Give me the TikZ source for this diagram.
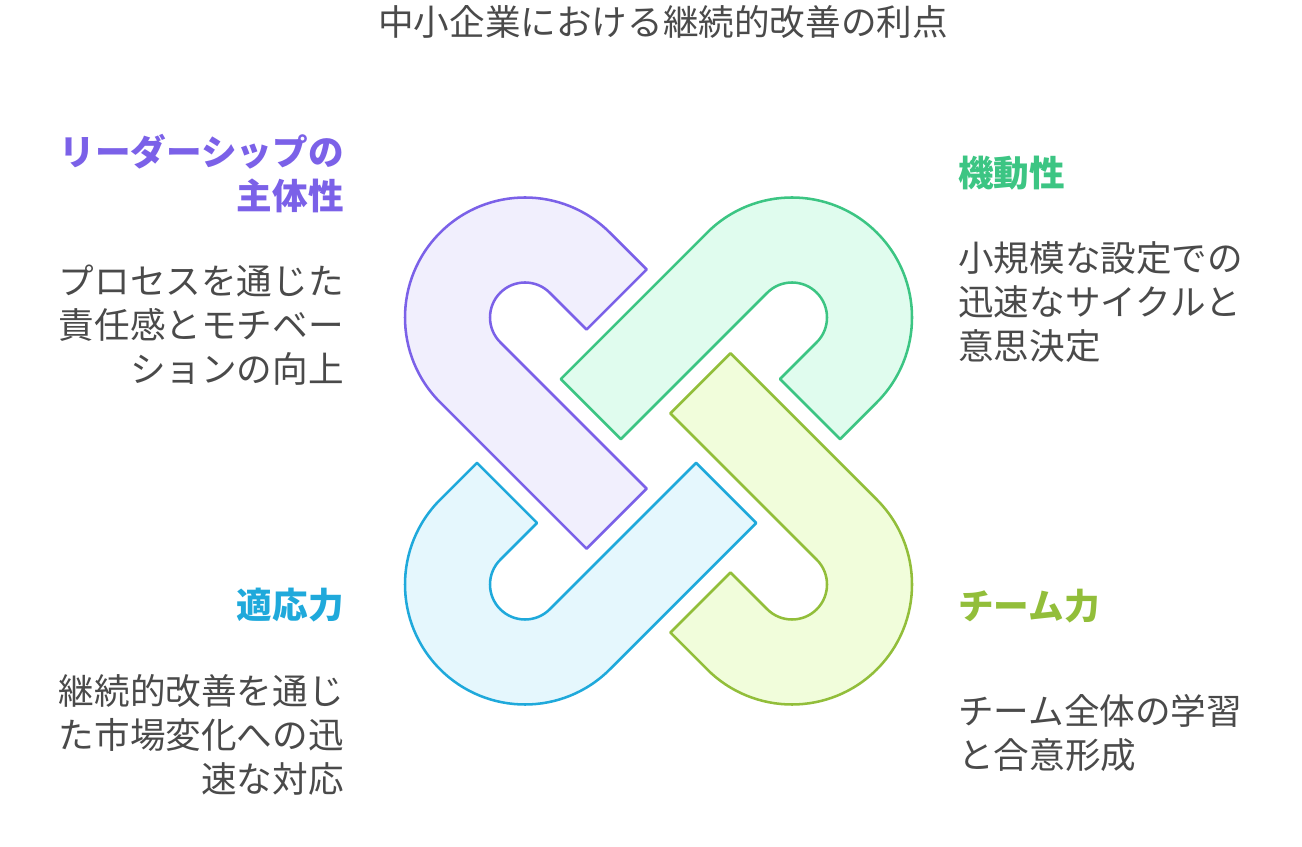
\documentclass[tikz,border=0pt]{standalone}
\usepackage{fontspec}
\setmainfont{Noto Sans CJK JP}
\definecolor{txt}{HTML}{4A4A4A}
\definecolor{pstroke}{HTML}{7B61E8}
\definecolor{pfill}{HTML}{F1EFFD}
\definecolor{gstroke}{HTML}{3CC583}
\definecolor{gfill}{HTML}{E0FCEE}
\definecolor{lstroke}{HTML}{92BE3A}
\definecolor{lfill}{HTML}{F1FDDB}
\definecolor{bstroke}{HTML}{1FA9DB}
\definecolor{bfill}{HTML}{E5F7FD}
\tikzset{
  hookline/.style={line width=1.9pt, line join=round},
  body/.style={inner sep=0pt, text=txt, font=\fontsize{26.7}{32.8}\selectfont},
  head/.style={inner sep=0pt, font=\fontsize{26.7}{32.6}\selectfont\bfseries},
}
\newcommand{\hookpath}{%
  (0,120) -- (52,120) -- (52,35) -- (0,35)
  arc[start angle=90, end angle=270, radius=35]
  -- (207,-35) -- (207,-120) -- (0,-120)
  arc[start angle=270, end angle=90, radius=120] -- cycle}
\begin{document}
\begin{tikzpicture}[x=0.75pt,y=0.75pt]
\useasboundingbox (0,0) rectangle (1302,846);
% hooks
\begin{scope}[shift={(525,528.5)}, rotate=-45]
  \filldraw[hookline, draw=pstroke, fill=pfill] \hookpath;
\end{scope}
\begin{scope}[shift={(792,528.5)}, rotate=-135]
  \filldraw[hookline, draw=gstroke, fill=gfill] \hookpath;
\end{scope}
\begin{scope}[shift={(792,261.5)}, rotate=135]
  \filldraw[hookline, draw=lstroke, fill=lfill] \hookpath;
\end{scope}
\begin{scope}[shift={(525,261.5)}, rotate=45]
  \filldraw[hookline, draw=bstroke, fill=bfill] \hookpath;
\end{scope}
% title
\node[body] (title) at (663,824) {中小企業における継続的改善の利点};
% purple
\node[head, text=pstroke, anchor=east, align=right] (ph) at (344,672.5) {リーダーシップの\\主体性};
\node[body, anchor=east, align=right] (pb) at (344,521) {プロセスを通じた\\責任感とモチベー\\ションの向上};
% green
\node[head, text=gstroke, anchor=west, align=left] (gh) at (958,673) {機動性};
\node[body, anchor=west, align=left] (gb) at (958,544) {小規模な設定での\\迅速なサイクルと\\意思決定};
% blue
\node[head, text=bstroke, anchor=east, align=right] (bh) at (344,241) {適応力};
\node[body, anchor=east, align=right] (bb) at (344,111) {継続的改善を通じ\\た市場変化への迅\\速な対応};
% lime
\node[head, text=lstroke, anchor=west, align=left] (lh) at (958,240) {チーム力};
\node[body, anchor=west, align=left] (lb) at (958,113) {チーム全体の学習\\と合意形成};
\end{tikzpicture}
\end{document}
